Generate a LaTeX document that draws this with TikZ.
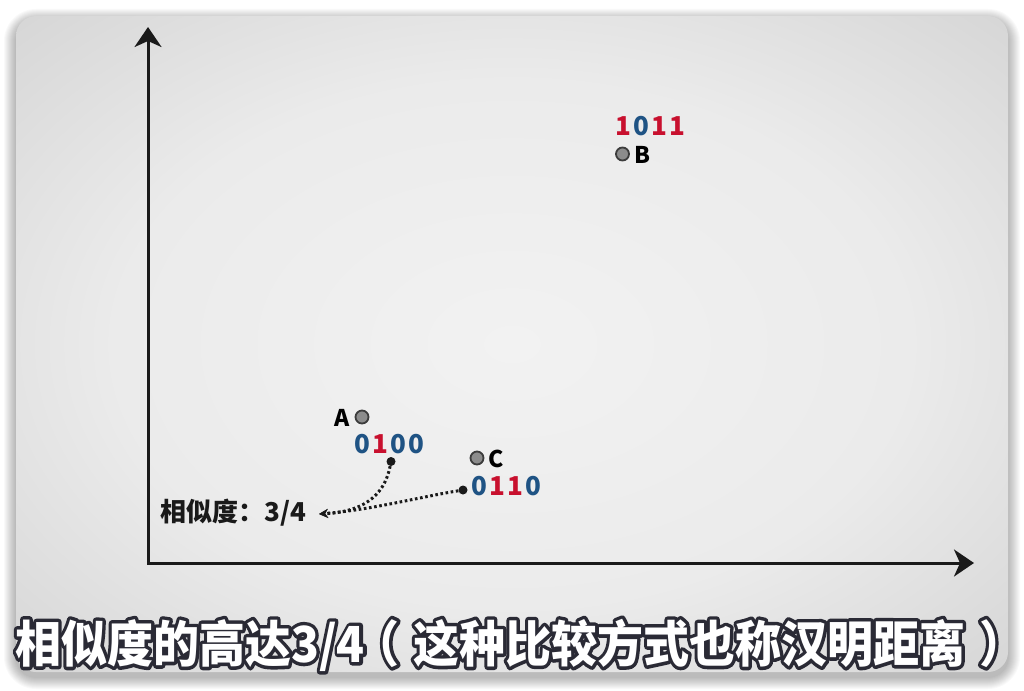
\documentclass[tikz,border=0pt]{standalone}
\usepackage{fontspec}
\usepackage{graphicx}
\newfontfamily\cjk{Noto Sans CJK SC}
\usetikzlibrary{arrows.meta,calc}
\definecolor{bitblue}{HTML}{1F5384}
\definecolor{bitred}{HTML}{C8102E}
\definecolor{ink}{HTML}{1A1A1A}
\definecolor{outl}{HTML}{2A2A35}
\definecolor{pc0}{HTML}{F2F2F2}
\definecolor{pc1}{HTML}{EBEBEB}
\definecolor{pc2}{HTML}{D4D4D4}
\definecolor{pc3}{HTML}{B4B4B4}
\definecolor{pc4}{HTML}{8C8C8C}
\pgfdeclareradialshading{vignette}{\pgfpoint{0bp}{0bp}}{color(0bp)=(pc0); color(20bp)=(pc1); color(37bp)=(pc2); color(50bp)=(pc3); color(71bp)=(pc4)}
\tikzset{
  axis/.style={draw=ink, line width=3pt},
  bigdot/.style={circle, draw=ink!85, fill=black!45, line width=1.8pt, minimum size=13pt, inner sep=0pt},
  smalldot/.style={circle, fill=ink, minimum size=9pt, inner sep=0pt},
  ptlabel/.style={font=\cjk\bfseries\fontsize{23}{23}\selectfont, text=black, inner sep=0pt},
  bit/.style={font=\cjk\bfseries\fontsize{26}{26}\selectfont, inner sep=0pt},
  bb/.style={bit, text=bitblue},
  br/.style={bit, text=bitred},
  simtext/.style={font=\cjk\bfseries\fontsize{26}{26}\selectfont, text=ink, inner sep=0pt},
  dotline/.style={draw=ink, line width=3pt, dash pattern=on 2.6pt off 2.6pt, -{Stealth[length=9pt,width=9pt]}},
  subtxt/.style={font=\cjk\bfseries\fontsize{46}{46}\selectfont, inner sep=0pt}
}
% stroked (outline) text via PDF text render mode 2
\newcommand\strokedtext[1]{\special{pdf:literal direct 1 j 6.4 w 2 Tr}#1\special{pdf:literal direct 0 Tr 1 w}}
\newcommand\subline{相似度的高达3/4\kern-0.25em（\kern0.3em 这种比较方式也称汉明距离\kern0.3em）}
\begin{document}
\begin{tikzpicture}[x=1pt,y=-1pt]
\useasboundingbox (0,0) rectangle (1024,690);
\fill[white] (0,0) rectangle (1024,690);
% soft shadow
\foreach \i in {1,...,12}{
  \fill[black, opacity=0.022, rounded corners=20+\i] (16-\i,16-\i+5) rectangle (1008+\i,672+\i+5);
}
% panel
\shade[shading=vignette, rounded corners=20pt] (16,16) rectangle (1008,672);
% axes
\coordinate (O) at (148,563);
\coordinate (Ytop) at (148,27);
\coordinate (Xend) at (974,563);
\draw[axis, {Stealth[length=20pt,width=27pt,inset=6pt]}-{Stealth[length=20pt,width=27pt,inset=6pt]}] (Ytop) -- (O) -- (Xend);
% points
\node[bigdot] (A) at (362,417) {};
\node[bigdot] (B) at (622.5,154) {};
\node[bigdot] (C) at (477,458) {};
\node[ptlabel, anchor=east] (Alab) at ($(A.west)+(-5,1)$) {A};
\node[ptlabel, anchor=west] (Blab) at ($(B.east)+(4,1)$) {B};
\node[ptlabel, anchor=west] (Clab) at ($(C.east)+(4,1)$) {C};
% bit strings
\node[br] (b1) at (623,126) {1};
\node[bb] (b2) at (641,126) {0};
\node[br] (b3) at (659,126) {1};
\node[br] (b4) at (677,126) {1};
\node[bb] (a1) at (362,444) {0};
\node[br] (a2) at (380,444) {1};
\node[bb] (a3) at (398,444) {0};
\node[bb] (a4) at (416,444) {0};
\node[bb] (c1) at (479,486) {0};
\node[br] (c2) at (497,486) {1};
\node[br] (c3) at (515,486) {1};
\node[bb] (c4) at (533,486) {0};
% small dots
\node[smalldot] (ad) at (391,461.5) {};
\node[smalldot] (cd) at (463,490) {};
% similarity label
\node[simtext, anchor=west] (sim) at (160,513) {相似度：3/4};
\coordinate (tip) at (319,514);
\draw[dotline] (ad) .. controls (384,498) and (360,512) .. (tip);
\draw[dotline] (cd) .. controls (420,497) and (370,510) .. (tip);
% subtitle: dark stroked copy underneath, white text on top
\coordinate (subc) at (15,645);
\node[subtxt, text=outl, anchor=west] (subo) at (subc) {\scalebox{1}[1.08]{\strokedtext{\subline}}};
\node[subtxt, text=white, anchor=west] (sub) at (subc) {\scalebox{1}[1.08]{\subline}};
\end{tikzpicture}
\end{document}
